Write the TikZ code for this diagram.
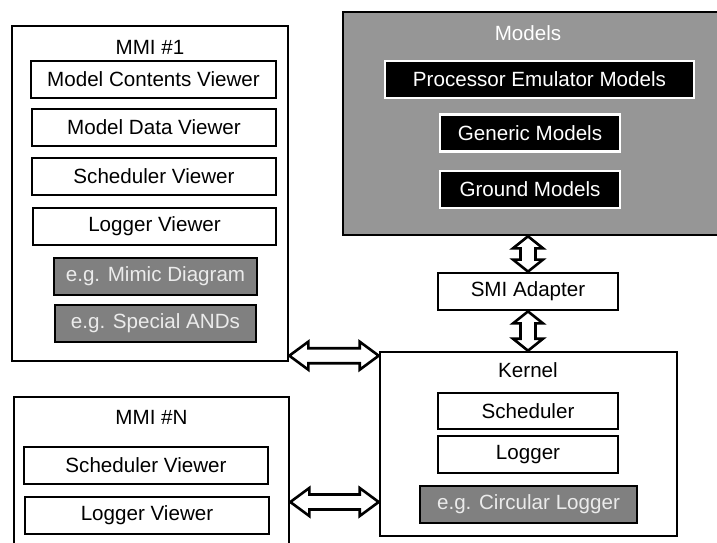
\documentclass[tikz,border=0pt]{standalone}
\usepackage{fontspec}
\setmainfont{Liberation Sans}
\usetikzlibrary{calc}
\definecolor{modelgray}{RGB}{150,150,150}
\definecolor{boxgray}{RGB}{128,128,128}
\definecolor{lighttext}{RGB}{235,235,235}
\newcommand\HDbl[2]{%
  \draw[dblarrow] let \p1=(#1), \p2=(#2) in
    (\x1,\y1) -- (\x1+19pt,\y1+14pt) -- (\x1+19pt,\y1+7.5pt) -- (\x2-19pt,\y1+7.5pt)
    -- (\x2-19pt,\y1+14pt) -- (\x2,\y1) -- (\x2-19pt,\y1-14pt) -- (\x2-19pt,\y1-7.5pt)
    -- (\x1+19pt,\y1-7.5pt) -- (\x1+19pt,\y1-14pt) -- cycle;}
\newcommand\VDbl[2]{%
  \draw[dblarrow] let \p1=(#1), \p2=(#2) in
    (\x1,\y1) -- (\x1+15pt,\y1-12pt) -- (\x1+7.5pt,\y1-12pt) -- (\x1+7.5pt,\y2+12pt)
    -- (\x1+15pt,\y2+12pt) -- (\x1,\y2) -- (\x1-15pt,\y2+12pt) -- (\x1-7.5pt,\y2+12pt)
    -- (\x1-7.5pt,\y1-12pt) -- (\x1-15pt,\y1-12pt) -- cycle;}
\begin{document}
\begin{tikzpicture}[x=1pt,y=-1pt,
  every node/.style={font=\fontsize{20.6}{24}\selectfont, inner sep=0pt},
  outerbox/.style={draw, line width=2.6pt, fill=white},
  wbox/.style={draw, line width=2.8pt, fill=white, minimum height=37pt},
  gbox/.style={draw, line width=2.8pt, fill=boxgray, text=lighttext, minimum height=37pt},
  bbox/.style={draw=white, line width=2.2pt, fill=black, text=white, minimum height=37pt},
  dblarrow/.style={draw, line width=2.6pt, fill=white, line join=miter}]
\useasboundingbox (0,0) rectangle (717,542);
\clip (0,0) rectangle (717,542);
% MMI #1
\node[outerbox, minimum width=276pt, minimum height=335pt] (mmi1) at (150,193.5) {};
\node (mmi1t) at (150,47) {MMI \#1};
\node[wbox, minimum width=245pt] (mcv) at (153.5,79.5) {Model Contents Viewer};
\node[wbox, minimum width=244pt] (mdv) at (154,127.5) {Model Data Viewer};
\node[wbox, minimum width=244pt] (sv1) at (154,176.5) {Scheduler Viewer};
\node[wbox, minimum width=243pt] (lv1) at (154.5,226.5) {Logger Viewer};
\node[gbox, minimum width=203pt] (mimic) at (155.5,276.5) {e.g. Mimic Diagram};
\node[gbox, minimum width=201pt] (sand) at (155.5,323.5) {e.g. Special ANDs};
% MMI #N
\node[outerbox, minimum width=275pt, minimum height=163pt] (mmiN) at (151.5,478.5) {};
\node (mmiNt) at (151.5,417) {MMI \#N};
\node[wbox, minimum width=244pt] (svN) at (146,465.5) {Scheduler Viewer};
\node[wbox, minimum width=244pt] (lvN) at (147,515.5) {Logger Viewer};
% Models
\node[draw, line width=2.6pt, fill=modelgray, minimum width=387pt, minimum height=223pt] (models) at (536.5,123.5) {};
\node[text=white] (modelst) at (528,33) {Models};
\node[bbox, minimum width=309pt] (pem) at (539.5,79.5) {Processor Emulator Models};
\node[bbox, minimum width=180pt] (gen) at (530,133) {Generic Models};
\node[bbox, minimum width=180pt] (gnd) at (530,189.5) {Ground Models};
% SMI Adapter
\node[wbox, minimum width=180pt] (smi) at (528,291.5) {SMI Adapter};
% Kernel
\node[outerbox, minimum width=297pt, minimum height=184pt] (kernel) at (528.5,444) {};
\node (kernelt) at (528,370) {Kernel};
\node[wbox, minimum width=180pt, minimum height=36pt] (sched) at (528,411) {Scheduler};
\node[wbox, minimum width=180pt] (logger) at (528,454.5) {Logger};
\node[gbox, minimum width=217pt] (circ) at (528.5,504.5) {e.g. Circular Logger};
% connectors
\coordinate (ht) at ($(kernel.north west)+(0,5)$);
\coordinate (hb) at (334,502);
\HDbl{mmi1.east |- ht}{kernel.west |- ht}
\HDbl{mmiN.east |- hb}{kernel.west |- hb}
\VDbl{smi.north |- models.south}{smi.north}
\VDbl{smi.south}{kernel.north}
\end{tikzpicture}
\end{document}
